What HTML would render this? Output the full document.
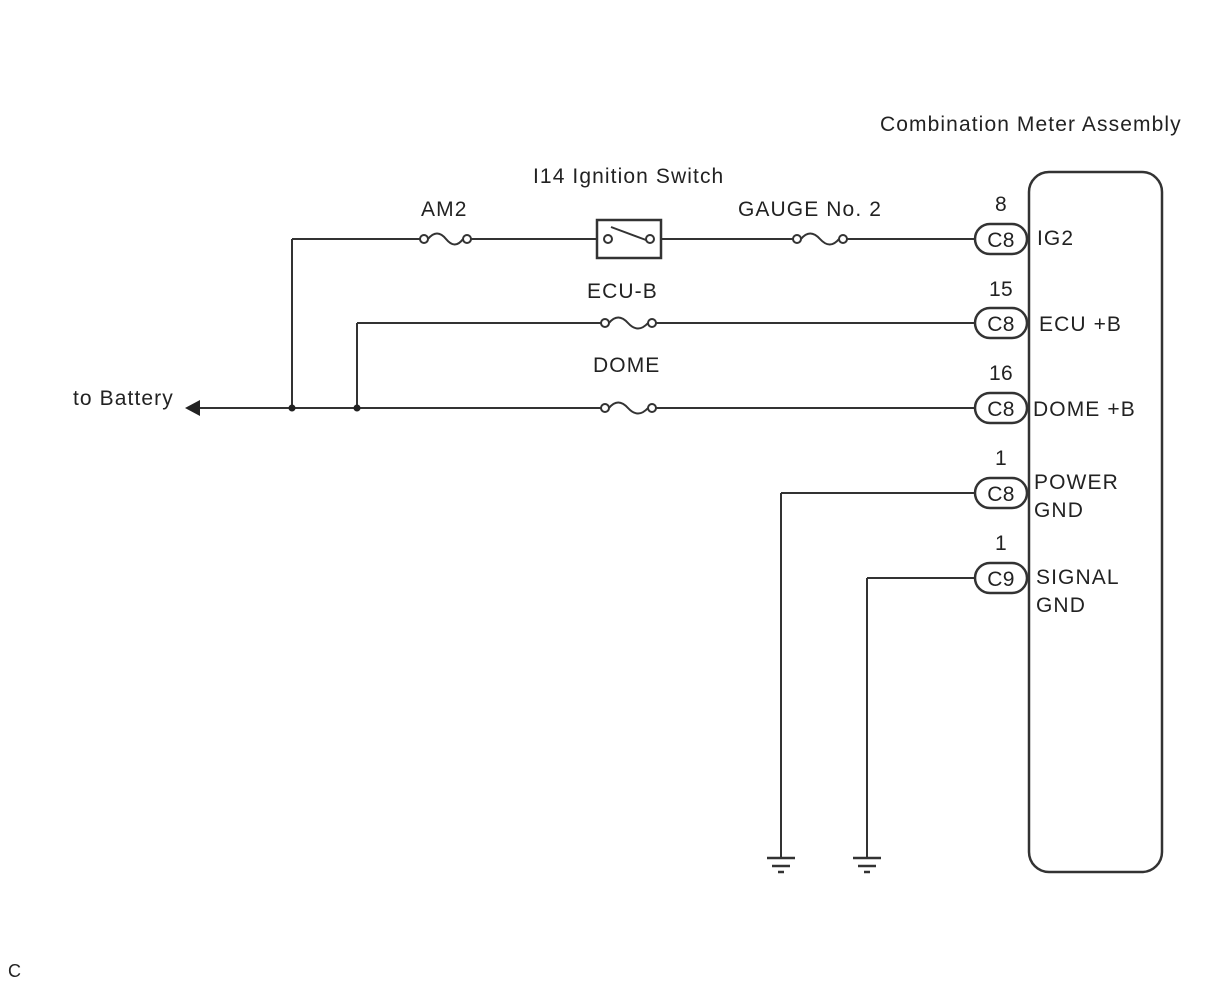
<!DOCTYPE html>
<html><head><style>
body{margin:0;background:#fff}
svg text{font-family:"Liberation Sans",sans-serif;font-size:21px;letter-spacing:1.1px;fill:#222}
svg text.c{letter-spacing:0.3px}
</style></head><body>
<svg width="1210" height="986" viewBox="0 0 1210 986" xmlns="http://www.w3.org/2000/svg">
<g stroke="#333" stroke-width="2" fill="none">
<rect x="1029" y="172" width="133" height="700" rx="20" stroke-width="2.5"/>
<path d="M292 239 H420 M471 239 H597 M661 239 H793 M847 239 H976"/>
<path d="M357 323 H601 M656 323 H976"/>
<path d="M196 408 H601 M656 408 H976"/>
<path d="M292 239 V408 M357 323 V408"/>
<path d="M781 493 H976 M781 493 V858 M867 578 H976 M867 578 V858"/>
<g>
<circle cx="424" cy="239" r="4"/><circle cx="467" cy="239" r="4"/><path d="M428 239 Q437 228 446 239 T463 239"/>
<circle cx="797" cy="239" r="4"/><circle cx="843" cy="239" r="4"/><path d="M801 239 Q810 228 820 239 T839 239"/>
<circle cx="605" cy="323" r="4"/><circle cx="652" cy="323" r="4"/><path d="M609 323 Q618 312 628 323 T648 323"/>
<circle cx="605" cy="408" r="4"/><circle cx="652" cy="408" r="4"/><path d="M609 408 Q618 397 628 408 T648 408"/>
</g>
<rect x="597" y="220" width="64" height="38" stroke-width="2.5"/>
<circle cx="608" cy="239" r="4"/><circle cx="650" cy="239" r="4"/>
<path d="M611 227 L646 240"/>
<rect x="975" y="224" width="52" height="30" rx="15" stroke-width="2.5"/>
<rect x="975" y="308" width="52" height="30" rx="15" stroke-width="2.5"/>
<rect x="975" y="393" width="52" height="30" rx="15" stroke-width="2.5"/>
<rect x="975" y="478" width="52" height="30" rx="15" stroke-width="2.5"/>
<rect x="975" y="563" width="52" height="30" rx="15" stroke-width="2.5"/>
<path d="M767 858 H795 M772 866 H790 M778 872 H784" stroke-width="2.5"/>
<path d="M853 858 H881 M858 866 H876 M864 872 H870" stroke-width="2.5"/>
</g>
<polygon points="185,408 200,400 200,416" fill="#222"/>
<circle cx="292" cy="408" r="3.5" fill="#222"/>
<circle cx="357" cy="408" r="3.5" fill="#222"/>
<text x="880" y="131">Combination Meter Assembly</text>
<text x="533" y="183">I14 Ignition Switch</text>
<text x="421" y="216">AM2</text>
<text x="738" y="216">GAUGE No. 2</text>
<text x="587" y="298">ECU-B</text>
<text x="593" y="372">DOME</text>
<text x="73" y="405">to Battery</text>
<g text-anchor="middle">
<text class="c" x="1001" y="211">8</text><text class="c" x="1001" y="296">15</text><text class="c" x="1001" y="380">16</text>
<text class="c" x="1001" y="465">1</text><text class="c" x="1001" y="550">1</text>
<text class="c" x="1001" y="247">C8</text><text class="c" x="1001" y="331">C8</text><text class="c" x="1001" y="416">C8</text>
<text class="c" x="1001" y="501">C8</text><text class="c" x="1001" y="586">C9</text>
</g>
<text x="1037" y="245">IG2</text>
<text x="1039" y="331">ECU +B</text>
<text x="1033" y="416">DOME +B</text>
<text x="1034" y="489">POWER</text><text x="1034" y="517">GND</text>
<text x="1036" y="584">SIGNAL</text><text x="1036" y="612">GND</text>
<text x="8" y="977" style="font-size:18px">C</text>
</svg>
</body></html>
